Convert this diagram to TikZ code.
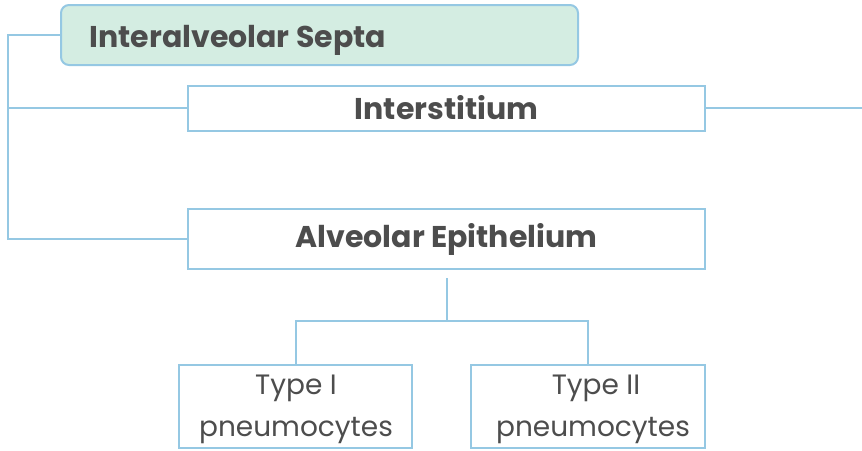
\documentclass[tikz,border=0pt]{standalone}
\usepackage{fontspec}
\setmainfont{Poppins}
\definecolor{linec}{HTML}{95C8E3}
\definecolor{txtc}{HTML}{4D4D4D}
\definecolor{greenf}{HTML}{D4EDE2}
\begin{document}
\begin{tikzpicture}[x=1pt,y=-1pt,
  conn/.style={draw=linec,line width=2pt},
  boxst/.style={draw=linec,line width=2pt,fill=white,inner sep=0pt,text=txtc},
  bt/.style={font=\fontsize{30}{34}\selectfont\bfseries},
  rt/.style={font=\fontsize{28}{40}\selectfont,align=center,text=txtc,inner sep=0pt}]
\useasboundingbox (0,0) rectangle (862,450);
\node[boxst,fill=greenf,rounded corners=8pt,minimum width=517pt,minimum height=60pt] (septa) at (319.5,35) {};
\node[bt,text=txtc,anchor=west] (septat) at (86,40) {Interalveolar Septa};
\node[boxst,minimum width=517pt,minimum height=45pt,bt] (inter) at (446.5,108) {Interstitium};
\node[boxst,minimum width=517pt,minimum height=60pt,bt] (alv) at (446.5,239) {\raisebox{-4pt}{Alveolar Epithelium}};
\node[boxst,minimum width=233pt,minimum height=83pt] (t1) at (295.5,406.5) {};
\node[boxst,minimum width=234pt,minimum height=83pt] (t2) at (588,406.5) {};
\node[rt] (t1t) at (296,409) {Type I\\[2pt]pneumocytes};
\node[rt] (t2t) at (593,409) {\hspace*{6pt}Type II\\[2pt]pneumocytes};
\coordinate (L) at (8,35);
\coordinate (R) at (862,108);
\coordinate (top) at (446.5,278);
\coordinate (mid) at (446.5,321);
\draw[conn] (septa.west) -- (L) |- (alv.west);
\draw[conn] (L |- inter.west) -- (inter.west);
\draw[conn] (inter.east) -- (R);
\draw[conn] (top) -- (mid);
\draw[conn] (t1.north) |- (mid) -| (t2.north);
\end{tikzpicture}
\end{document}
